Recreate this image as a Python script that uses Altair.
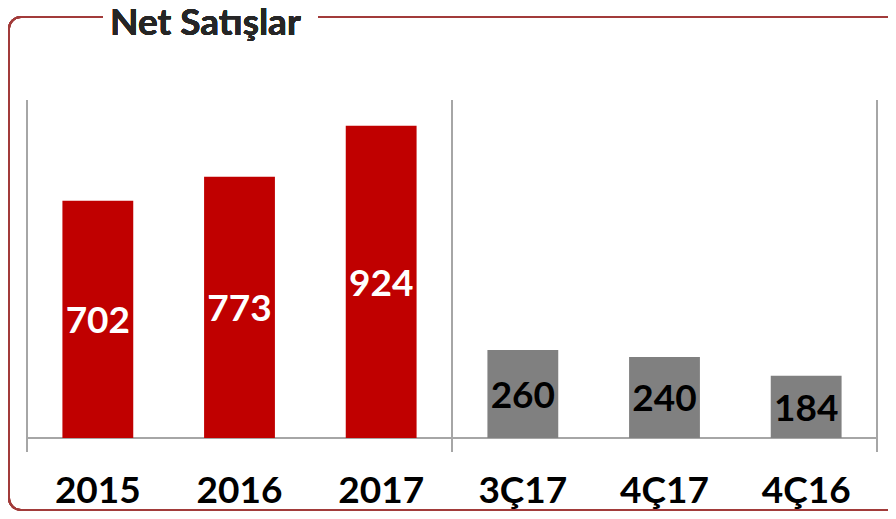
import altair as alt
import pandas as pd

categories = ["2015", "2016", "2017", "3Ç17", "4Ç17", "4Ç16"]
values = [702, 773, 924, 260, 240, 184]
groups = ["Yıllık", "Yıllık", "Yıllık", "Çeyreklik", "Çeyreklik", "Çeyreklik"]
title_text = "Net Satışlar"

df = pd.DataFrame({"cat": categories, "value": values, "group": groups})

W, H = 850, 338
FONT = "Lato"

xenc = alt.X("cat:N", sort=categories,
             scale=alt.Scale(paddingInner=0.5, paddingOuter=0.25),
             axis=alt.Axis(title=None, domain=False, ticks=False, labelAngle=0,
                           labelFontSize=37, labelFont=FONT, labelFontWeight="bold",
                           labelColor="#000000", labelBaseline="middle", labelPadding=53))
yscale = alt.Scale(domain=[0, 1000])

base = alt.Chart(df)

bars = base.mark_bar().encode(
    x=xenc,
    y=alt.Y("value:Q", scale=yscale, axis=None),
    color=alt.Color("group:N", scale=alt.Scale(domain=["Yıllık", "Çeyreklik"],
                                               range=["#C00000", "#808080"]), legend=None),
)

labels = base.transform_calculate(mid="datum.value / 2").mark_text(
    font=FONT, fontSize=37, fontWeight="bold", baseline="middle", align="center", dy=3
).encode(
    x=alt.X("cat:N", sort=categories),
    y=alt.Y("mid:Q", scale=yscale),
    text=alt.Text("value:Q"),
    fill=alt.Fill("group:N", scale=alt.Scale(domain=["Yıllık", "Çeyreklik"],
                                             range=["#FFFFFF", "#000000"]), legend=None),
)

grid = "#A6A6A6"
baseline = alt.Chart(df).mark_rule(color=grid, strokeWidth=2).encode(
    x=alt.value(0), x2=alt.value(W), y=alt.value(H)
)
vlines = [
    alt.Chart(df).mark_rule(color=grid, strokeWidth=2).encode(
        x=alt.value(xv), y=alt.value(0), y2=alt.value(H + 14))
    for xv in (0, W / 2, W)
]

border = alt.Chart(df).mark_rect(fill="transparent", stroke="#A23B3A", strokeWidth=2,
                                  cornerRadius=12).encode(
    x=alt.value(-18), x2=alt.value(W + 60), y=alt.value(-83), y2=alt.value(H + 72)
)
gap = alt.Chart(df).mark_rect(fill="#FFFFFF").encode(
    x=alt.value(76), x2=alt.value(291), y=alt.value(-100), y2=alt.value(-70)
)
title = alt.Chart(df).mark_text(
    text=title_text, font=FONT, fontSize=37, fontWeight="bold", color="#262626",
    align="left", baseline="alphabetic"
).encode(x=alt.value(83), y=alt.value(-65))

chart = alt.layer(border, gap, title, baseline, *vlines, bars, labels).properties(
    width=W, height=H,
    padding={"left": 19, "top": 92, "right": 11, "bottom": 73},
    autosize=alt.AutoSizeParams(type="none"),
).configure_view(stroke=None)

chart.save("out.html", embed_options={"renderer": "svg", "actions": False})
